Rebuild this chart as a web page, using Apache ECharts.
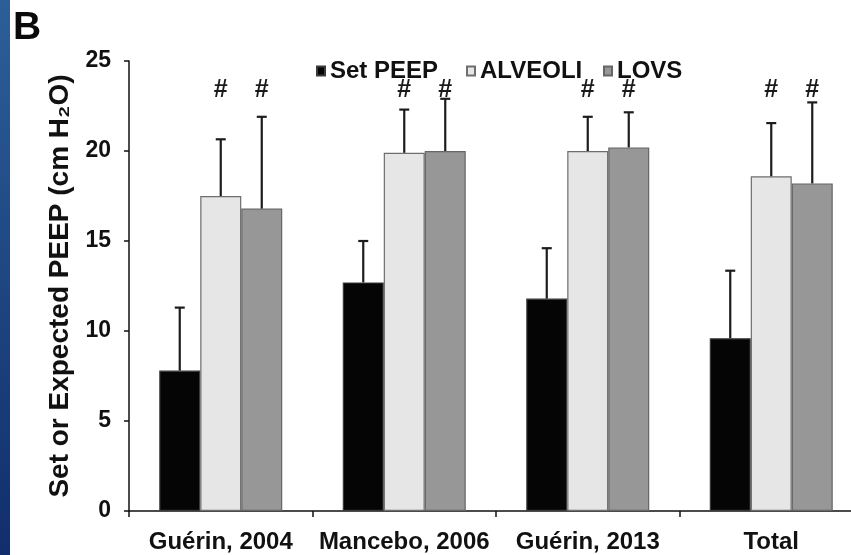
<!DOCTYPE html>
<html>
<head>
<meta charset="utf-8">
<script src="https://cdn.jsdelivr.net/npm/echarts@6/dist/echarts.min.js"></script>
<style>
  html, body { margin: 0; padding: 0; background: #ffffff; overflow: hidden; }
  /* the last group runs slightly past the right edge of the page */
  #chart { width: 872px; height: 555px; }
</style>
</head>
<body>
<div id="chart"></div>
<script>
// Study groups along the x axis
const categories = ['Guérin, 2004', 'Mancebo, 2006', 'Guérin, 2013', 'Total'];
const seriesNames = ['Set PEEP', 'ALVEOLI', 'LOVS'];

// Mean PEEP (cm H2O) and standard deviation for each method
const setPeepMean = [7.8, 12.7, 11.8, 9.6];
const setPeepSd   = [3.5, 2.3, 2.8, 3.75];
const alveoliMean = [17.5, 19.9, 20.0, 18.6];
const alveoliSd   = [3.15, 2.4, 1.9, 2.95];
const lovsMean    = [16.8, 20.0, 20.2, 18.2];
const lovsSd      = [5.1, 2.9, 1.95, 4.5];

// '#' marks: [category index, series index] significantly different from set PEEP
const significance = [[0, 1], [0, 2], [1, 1], [1, 2], [2, 1], [2, 2], [3, 1], [3, 2]];

// Y axis range
const yMin = 0, yMax = 25, yStep = 5;

const FONT = '"Liberation Sans", Arial, Helvetica, sans-serif';
const BAR_W = 41;
const means = [setPeepMean, alveoliMean, lovsMean];
const sds = [setPeepSd, alveoliSd, lovsSd];
const fills = ['#050505', '#e6e6e6', '#979797'];
const borders = ['#3a3a3a', '#6e6e6e', '#666666'];
const legendLeft = [311, 461, 598];

const chart = echarts.init(document.getElementById('chart'), null, { renderer: 'canvas' });

const barSeries = seriesNames.map((name, k) => ({
  name: name,
  type: 'bar',
  barWidth: BAR_W,
  barGap: '0%',
  data: means[k],
  itemStyle: { color: fills[k], borderColor: borders[k], borderWidth: 1.2 },
  emphasis: { disabled: true },
  z: 2
}));

// Upper error bars (mean + SD) with a short cap
const errorSeries = seriesNames.map((name, k) => ({
  type: 'custom',
  name: name + ' SD',
  data: means[k].map((m, i) => [i, m, sds[k][i]]),
  renderItem: function (params, api) {
    const i = api.value(0);
    const m = api.value(1);
    const s = api.value(2);
    const dx = (k - 1) * BAR_W;
    const base = api.coord([i, m]);
    const top = api.coord([i, m + s]);
    const x = base[0] + dx;
    const style = { stroke: '#1c1c1c', lineWidth: 2.2 };
    return {
      type: 'group',
      children: [
        { type: 'line', shape: { x1: x, y1: base[1], x2: x, y2: top[1] }, style: style },
        { type: 'line', shape: { x1: x - 5, y1: top[1], x2: x + 5, y2: top[1] }, style: style }
      ]
    };
  },
  z: 3,
  silent: true
}));

// '#' symbols above the bars
const hashSeries = {
  type: 'custom',
  name: 'significance',
  data: significance,
  renderItem: function (params, api) {
    const i = api.value(0);
    const k = api.value(1);
    const p = api.coord([i, yMax]);
    return {
      type: 'text',
      x: p[0] + (k - 1) * BAR_W,
      y: p[1] + 29,
      style: {
        text: '#',
        fill: '#1a1a1a',
        font: 'bold 25px ' + FONT,
        align: 'center',
        verticalAlign: 'middle'
      }
    };
  },
  z: 4,
  silent: true
};

const option = {
  backgroundColor: '#ffffff',
  animation: false,
  textStyle: { fontFamily: FONT },
  graphic: [
    {
      type: 'rect',
      left: 0, top: 0,
      shape: { width: 10, height: 555 },
      style: {
        fill: new echarts.graphic.LinearGradient(0, 0, 0, 1, [
          { offset: 0, color: '#2c5f98' },
          { offset: 1, color: '#112e6c' }
        ])
      },
      silent: true
    },
    {
      type: 'text',
      left: 13, top: 9,
      style: { text: 'B', font: 'bold 39px ' + FONT, fill: '#0a0a0a' },
      silent: true
    }
  ],
  legend: seriesNames.map((name, k) => ({
    data: [name],
    left: legendLeft[k],
    top: 54,
    icon: 'rect',
    itemWidth: 8,
    itemHeight: 9,
    textStyle: { fontSize: 24, fontWeight: 'bold', color: '#111', fontFamily: FONT },
    selectedMode: false
  })),
  grid: { left: 129, width: 734, top: 61, bottom: 44, containLabel: false },
  xAxis: {
    type: 'category',
    data: categories,
    axisLine: { lineStyle: { color: '#111', width: 1.5 } },
    axisTick: { show: true, interval: 0, length: 6, lineStyle: { color: '#111', width: 1.5 } },
    axisLabel: { interval: 0, hideOverlap: false, fontSize: 24, fontWeight: 'bold', color: '#111', margin: 19, fontFamily: FONT },
    splitLine: { show: false }
  },
  yAxis: {
    type: 'value',
    min: yMin, max: yMax, interval: yStep,
    name: 'Set or Expected PEEP (cm H₂O)',
    nameLocation: 'middle',
    nameGap: 50,
    nameTextStyle: { fontSize: 28, fontWeight: 'bold', color: '#111', fontFamily: FONT },
    axisLine: { show: true, lineStyle: { color: '#111', width: 1.5 } },
    axisTick: { show: true, length: 5, lineStyle: { color: '#111', width: 1.5 } },
    axisLabel: { fontSize: 23, fontWeight: 'bold', color: '#111', margin: 18, fontFamily: FONT },
    splitLine: { show: false }
  },
  series: barSeries.concat(errorSeries, [hashSeries])
};

chart.setOption(option);
</script>
</body>
</html>
